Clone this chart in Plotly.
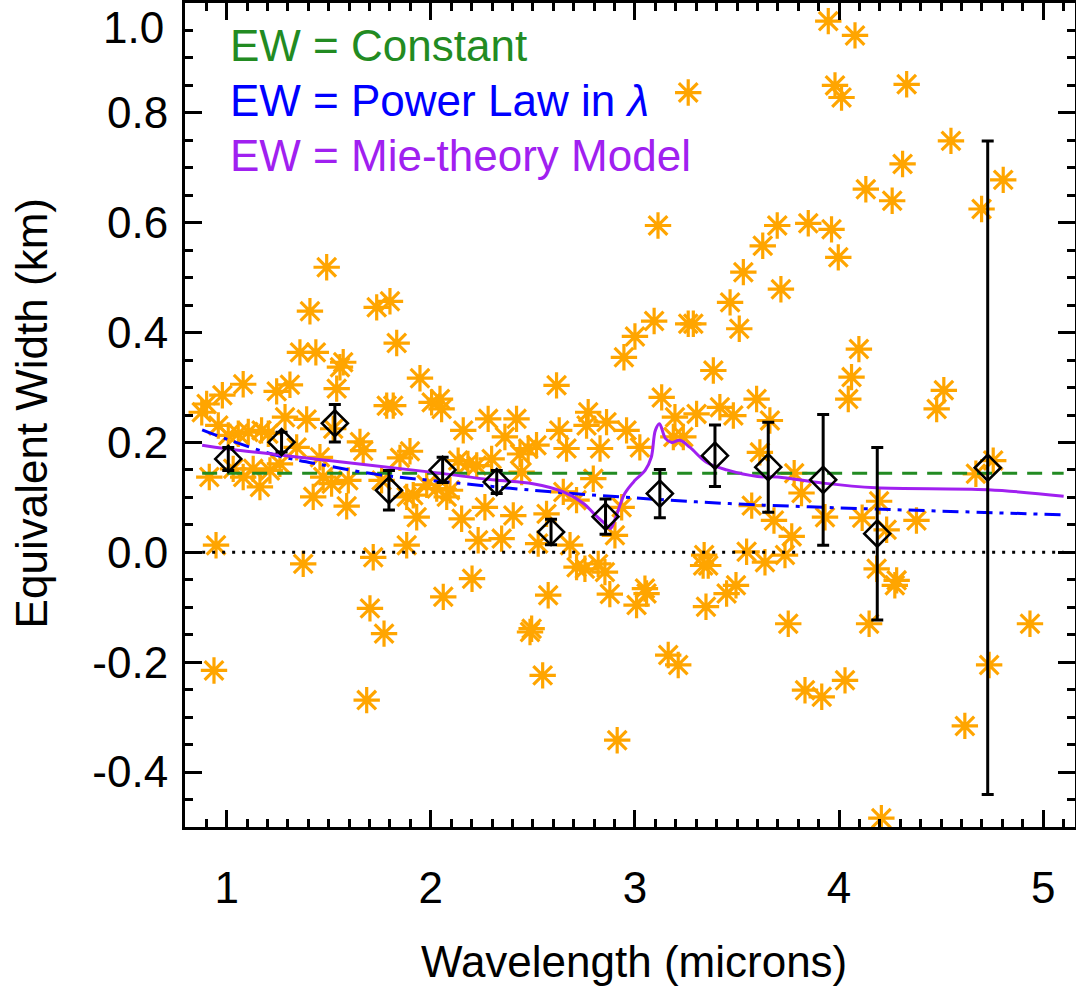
import plotly.graph_objects as go

# ---------------- data ----------------
# individual equivalent-width measurements (orange asterisks)
pts_x = [0.878, 0.902, 0.979, 0.959, 0.915, 0.938, 0.948, 1.008,
         1.081, 1.057, 1.106, 1.171, 1.204, 1.032, 1.081, 1.130, 1.163, 1.212, 1.261, 1.245, 1.310, 1.286, 1.343,
         1.490, 1.408, 1.359, 1.437, 1.392, 1.457, 1.473, 1.514, 1.424, 1.375, 1.571, 1.555, 1.539, 1.522, 1.596,
         1.588, 1.735, 1.800, 1.833, 1.653, 1.669, 1.784, 1.816, 1.759, 1.718, 1.702, 1.771, 1.686,
         1.947, 1.849, 1.898, 1.882, 1.914, 1.931, 1.882, 2.004, 2.045, 2.053, 1.980, 2.029, 2.078, 2.094,
         2.134, 2.182, 2.225, 2.159, 2.151, 2.202, 2.061, 2.281, 2.420, 2.363, 2.437, 2.477, 2.518, 2.298,
         2.445, 2.265, 2.404, 2.232, 2.347,
         2.526, 2.567, 2.682, 2.616, 2.629, 2.665, 2.649, 2.714, 2.771, 2.763, 2.861, 2.829, 2.796, 2.959,
         3.024, 2.935, 2.902, 2.486, 2.494, 2.548, 2.575, 2.714, 2.755, 2.820, 2.853, 2.877, 2.913, 3.008,
         3.049, 3.057,
         2.946, 3.000, 3.094, 3.113, 3.261, 3.131, 3.196, 3.188, 3.237, 3.302, 3.261, 3.286, 3.416, 3.482,
         3.384, 3.466, 3.511, 3.531, 3.626, 3.596, 3.612, 3.572, 3.339, 3.334, 3.359, 3.547, 3.637, 3.449,
         3.495, 3.348, 3.163, 3.212,
         3.697, 3.849, 3.963, 3.996, 3.715, 3.947, 4.078, 3.980, 4.012, 4.331, 4.548, 4.311, 4.131, 4.260,
         4.804, 4.698, 4.097, 4.061, 4.045, 4.513, 4.478, 3.661, 3.780, 3.816, 3.681, 3.768, 3.735, 3.931,
         4.113, 4.196, 4.233, 4.379, 4.184, 4.282, 4.670, 4.755, 3.751, 3.833, 3.915, 4.029, 4.273, 4.147,
         4.207, 4.616, 4.735, 4.935]
pts_y = [0.255, 0.270, 0.286, 0.231, 0.137, -0.215, 0.013, 0.213,
         0.306, 0.216, 0.219, 0.222, 0.216, 0.152, 0.137, 0.152, 0.119, 0.149, 0.161, 0.293, 0.305, 0.246, 0.191,
         0.519, 0.439, 0.364, 0.364, 0.242, 0.173, 0.137, 0.125, 0.101, -0.021, 0.346, 0.337, 0.298, 0.225, 0.131,
         0.084, 0.446, 0.457, 0.381, 0.201, 0.185, 0.267, 0.267, 0.131, -0.009, -0.102, -0.148, -0.269,
         0.317, 0.172, 0.184, 0.101, 0.104, 0.064, 0.013, 0.273, 0.279, 0.261, 0.123, 0.116, 0.101, 0.113,
         0.167, 0.161, 0.158, 0.222, 0.061, -0.048, -0.081, 0.243, 0.243, 0.210, 0.179, 0.189, 0.195, 0.170,
         0.146, 0.082, 0.067, 0.022, 0.025,
         0.016, 0.070, 0.013, 0.304, 0.222, 0.189, 0.110, 0.095, 0.255, 0.231, 0.237, 0.189, 0.134, 0.222,
         0.191, 0.082, 0.031, -0.145, -0.139, -0.224, -0.078, -0.027, -0.030, -0.021, -0.036, -0.076, -0.342, -0.096,
         -0.066, -0.075,
         0.355, 0.393, 0.421, 0.595, 0.837, 0.282, 0.246, 0.210, 0.210, 0.252, 0.416, 0.416, 0.264, 0.249,
         0.331, 0.455, 0.407, 0.510, 0.558, 0.279, 0.182, 0.085, -0.005, -0.024, -0.024, 0.001, -0.018, -0.075,
         -0.060, -0.099, -0.187, -0.205,
         0.595, 0.599, 0.588, 0.537, 0.479, 0.967, 0.941, 0.850, 0.828, 0.852, 0.749, 0.707, 0.661, 0.640,
         0.678, 0.625, 0.370, 0.319, 0.279, 0.295, 0.261, 0.240, 0.144, 0.108, 0.058, 0.029, -0.005, 0.064,
         0.063, 0.093, 0.041, 0.058, -0.030, -0.051, 0.143, 0.167, -0.130, -0.251, -0.263, -0.233, -0.060, -0.130,
         -0.484, -0.316, -0.205, -0.130]

# binned means (black diamonds) with errors
bin_x = [1.008, 1.269, 1.530, 1.795, 2.058, 2.323, 2.589, 2.856, 3.122, 3.392, 3.653, 3.922, 4.187, 4.728]
bin_y = [0.170, 0.2005, 0.235, 0.113, 0.150, 0.128, 0.037, 0.065, 0.107, 0.176, 0.155, 0.132, 0.034, 0.154]
bin_err = [0.021, 0.018, 0.034, 0.036, 0.023, 0.021, 0.023, 0.032, 0.044, 0.056, 0.082, 0.119, 0.157, 0.595]

# model: constant EW
const_x = [0.88, 5.10]
const_y = [0.144, 0.144]

# model: power law in wavelength
pow_x = [0.88, 1.0, 1.25, 1.5, 1.75, 2.0, 2.5, 3.0, 3.5, 4.0, 4.5, 5.09]
pow_y = [0.223, 0.206, 0.176, 0.157, 0.141, 0.131, 0.113, 0.099, 0.088, 0.081, 0.075, 0.0685]

# model: Mie theory
mie_x = [0.88, 1.0, 1.5, 2.0, 2.3, 2.5, 2.65, 2.75, 2.8, 2.85, 2.88, 2.9, 2.95, 3.0, 3.05, 3.08,
         3.1, 3.12, 3.15, 3.18, 3.22, 3.27, 3.35, 3.45, 3.6, 3.7, 3.92, 4.18, 4.73, 5.10]
mie_y = [0.195, 0.1885, 0.167, 0.146, 0.132, 0.125, 0.110, 0.0885, 0.070, 0.053, 0.0436, 0.058, 0.107,
         0.131, 0.149, 0.173, 0.222, 0.234, 0.207, 0.200, 0.204, 0.191, 0.164, 0.150, 0.138, 0.137, 0.126,
         0.1176, 0.114, 0.102]

zero_x = [0.88, 5.10]
zero_y = [0.0, 0.0]

legend_labels = ["EW = Constant", "EW = Power Law in <i>λ</i>", "EW = Mie-theory Model"]
legend_colors = ["#228B22", "#0000FF", "#A020F0"]
legend_y = [0.922, 0.822, 0.722]

yticks = [-0.4, -0.2, 0.0, 0.2, 0.4, 0.6, 0.8]
ytick_text = ["-0.4", "-0.2", "0.0", "0.2", "0.4", "0.6", "0.8"]
xticks = [1, 2, 3, 4, 5]

FONT = "Liberation Sans, Arial, Helvetica, sans-serif"
FS = 44

fig = go.Figure()

fig.add_trace(go.Scatter(x=pts_x, y=pts_y, mode="markers",
                         marker=dict(symbol="asterisk-open", size=22,
                                     color="#FFA500",
                                     line=dict(color="#FFA500", width=3.2)),
                         showlegend=False))

fig.add_trace(go.Scatter(x=zero_x, y=zero_y, mode="lines",
                         line=dict(color="black", width=3, dash="3px,7px"), showlegend=False))
fig.add_trace(go.Scatter(x=const_x, y=const_y, mode="lines",
                         line=dict(color="#228B22", width=3, dash="15px,10px"), showlegend=False))
fig.add_trace(go.Scatter(x=pow_x, y=pow_y, mode="lines", line_shape="spline",
                         line=dict(color="#0000FF", width=3, dash="16px,7px,4px,7px"), showlegend=False))
fig.add_trace(go.Scatter(x=mie_x, y=mie_y, mode="lines", line_shape="spline",
                         line=dict(color="#A020F0", width=3), showlegend=False))

fig.add_trace(go.Scatter(x=bin_x, y=bin_y, mode="markers",
                         marker=dict(symbol="diamond-open", size=20, color="black",
                                     line=dict(color="black", width=2.6)),
                         error_y=dict(type="data", array=bin_err, visible=True,
                                      color="black", thickness=3, width=6),
                         showlegend=False))

# legend text
for lab, col, ly in zip(legend_labels, legend_colors, legend_y):
    fig.add_annotation(x=0.0483, y=ly, xref="paper", yref="y",
                       text=lab, showarrow=False, xanchor="left", yanchor="middle",
                       font=dict(family=FONT, size=FS, color=col))

# 1.0 tick label (drawn slightly inside the figure like the original)
fig.add_annotation(x=-0.021, y=0.970, xref="paper", yref="paper", text="1.0",
                   showarrow=False, xanchor="right", yanchor="middle",
                   font=dict(family=FONT, size=FS, color="black"))

# axis titles
fig.add_annotation(x=0.5045, y=-0.163, xref="paper", yref="paper",
                   text="Wavelength (microns)", showarrow=False,
                   xanchor="center", yanchor="middle",
                   font=dict(family=FONT, size=FS, color="black"))
fig.add_annotation(x=-0.173, y=0.502, xref="paper", yref="paper",
                   text="Equivalent Width (km)", showarrow=False, textangle=-90,
                   xanchor="center", yanchor="middle",
                   font=dict(family=FONT, size=FS, color="black"))

axis_common = dict(showline=True, linecolor="black", linewidth=3, mirror="allticks",
                   ticks="inside", tickcolor="black", tickwidth=3, ticklen=17,
                   showgrid=False, zeroline=False, automargin=False,
                   tickfont=dict(family=FONT, size=FS, color="black"))

fig.update_xaxes(range=[0.796, 5.1556], tickvals=xticks, ticklabelstandoff=20,
                 minor=dict(dtick=0.1, tick0=0, ticks="inside", ticklen=8,
                            tickwidth=2.5, tickcolor="black", showgrid=False),
                 **axis_common)
fig.update_yaxes(range=[-0.5, 1.0], tickvals=yticks, ticktext=ytick_text, ticklabelstandoff=5,
                 minor=dict(dtick=0.05, tick0=0, ticks="inside", ticklen=8,
                            tickwidth=2.5, tickcolor="black", showgrid=False),
                 **axis_common)

fig.update_layout(width=1076, height=986,
                  margin=dict(l=185, r=1, t=3, b=159, autoexpand=False),
                  paper_bgcolor="white", plot_bgcolor="white",
                  font=dict(family=FONT, size=FS, color="black"))

fig.write_html("out.html", config={"displayModeBar": False},
               post_script="document.body.style.margin='0';document.body.style.overflow='hidden';")
